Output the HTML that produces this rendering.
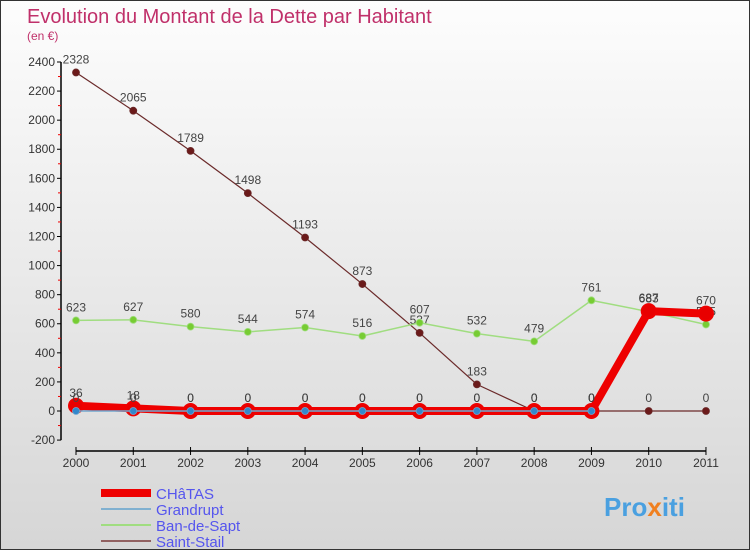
<!DOCTYPE html>
<html><head><meta charset="utf-8"><style>
body{margin:0}
#c{width:750px;height:550px;position:relative;overflow:hidden;box-sizing:border-box;border:1px solid #333;background:linear-gradient(#fdfdfd,#d6d6d6);font-family:"Liberation Sans",sans-serif}
</style></head><body>
<div id="c">
<svg id="s" width="750" height="550" style="position:absolute;left:0;top:0">
<text x="26" y="22" font-size="20" fill="#c0306a">Evolution du Montant de la Dette par Habitant</text>
<text x="26" y="39" font-size="12" fill="#c0306a">(en €)</text>
<text x="603" y="515" font-size="26" font-weight="bold" fill="#4aa0e0">Pro<tspan fill="#f08020">x</tspan>iti</text>
</svg>
</div>
<script>
const years=[2000,2001,2002,2003,2004,2005,2006,2007,2008,2009,2010,2011];
const chatas=[36,18,0,0,0,0,0,0,0,0,687,670];
const grandrupt=[0,0,0,0,0,0,0,0,0,0,null,null];
const ban=[623,627,580,544,574,516,607,532,479,761,683,595];
const stail=[2328,2065,1789,1498,1193,873,537,183,0,0,0,0];
const yTicks=[-200,0,200,400,600,800,1000,1200,1400,1600,1800,2000,2200,2400];
const ns="http://www.w3.org/2000/svg",s=document.getElementById('s');
const X=i=>75+i*57.27, Y=v=>410-v*0.14542;
function el(t,a){const e=document.createElementNS(ns,t);for(const k in a)e.setAttribute(k,a[k]);s.appendChild(e);return e;}
let e;
e=el('line',{x1:60,y1:Y(2400),x2:60,y2:Y(-200),stroke:'#000','stroke-width':1.5});

e=el('line',{x1:75,y1:450,x2:705,y2:450,stroke:'#000','stroke-width':1.5});

yTicks.forEach((v,i)=>{
 el('line',{x1:56,x2:60,y1:Y(v),y2:Y(v),stroke:'#000'});
 if(i<yTicks.length-1) el('line',{x1:57,x2:60,y1:Y(v+100),y2:Y(v+100),stroke:'#e00'});
 e=el('text',{x:54,y:Y(v)+4,'font-size':12,'text-anchor':'end',fill:'#333'});e.textContent=v;
 
});
years.forEach((y,i)=>{
 el('line',{x1:X(i),x2:X(i),y1:446,y2:454,stroke:'#000'});
 e=el('text',{x:X(i),y:466,'font-size':12,'text-anchor':'middle',fill:'#333'});e.textContent=y;
 
});
function series(d,color,w,r,ptFill,name){
 let pts=d.map((v,i)=>v==null?null:X(i)+','+Y(v)).filter(p=>p);
 e=el('polyline',{points:pts.join(' '),fill:'none',stroke:color,'stroke-width':w,'stroke-linejoin':'round'});
 
 d.forEach((v,i)=>{if(v==null)return;
  e=el('circle',{cx:X(i),cy:Y(v),r:r,fill:ptFill,stroke:color,'stroke-width':r>5?2:0.8});
  
  e=el('text',{x:X(i),y:Y(v)-9,'font-size':12,'text-anchor':'middle',fill:'#444'});e.textContent=v;
  
 });
}
series(stail,'#6b2a2a',1.2,3.5,'#6b1a1a','saint-stail');
series(ban,'#a0dd80',1.5,3.5,'#77cc33','ban-de-sapt');
series(chatas,'#ee0000',8,7,'#e80000','chatas');
series(grandrupt,'#70a8d0',1.5,3.5,'#3388cc','grandrupt');
const leg=[['CHâTAS','#ee0000',8],['Grandrupt','#80b0d0',2],['Ban-de-Sapt','#a0dd80',2],['Saint-Stail','#906060',2]];
leg.forEach((l,i)=>{
 const y=492+i*16;
 e=el('line',{x1:100,x2:150,y1:y,y2:y,stroke:l[1],'stroke-width':l[2]});
 
 e=el('text',{x:155,y:y+6,'font-size':15,fill:'#5555ee'});e.textContent=l[0];
 
});
</script>
</body></html>
